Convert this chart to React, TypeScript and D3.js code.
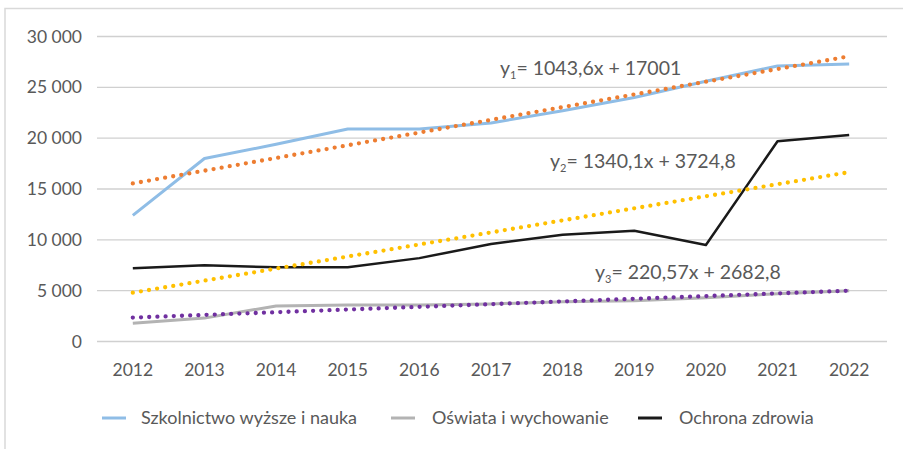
import React from "react";
import * as d3 from "d3";

const years = ["2012","2013","2014","2015","2016","2017","2018","2019","2020","2021","2022"];
const szkolnictwo = [12400,18000,19400,20900,20900,21500,22700,24000,25600,27100,27300];
const oswiata = [1800,2300,3500,3600,3600,3700,3900,4000,4300,4700,5000];
const ochrona = [7200,7500,7300,7300,8200,9600,10500,10900,9500,19700,20300];
const yTicks = [0,5000,10000,15000,20000,25000,30000];
const legendNames = ["Szkolnictwo wyższe i nauka","Oświata i wychowanie","Ochrona zdrowia"];
const equations = [
  { sub: "1", rest: "= 1043,6x + 17001" },
  { sub: "2", rest: "= 1340,1x + 3724,8" },
  { sub: "3", rest: "= 220,57x + 2682,8" },
];

const W = 903, H = 449;
const FONT = "Lato, 'Open Sans', sans-serif";
const TXT = "#595959";

function regress(vals: number[]) {
  const n = vals.length;
  const xs = vals.map((_, i) => i + 1);
  const mx = d3.mean(xs)!;
  const my = d3.mean(vals)!;
  let sxy = 0, sxx = 0;
  xs.forEach((x, i) => { sxy += (x - mx) * (vals[i] - my); sxx += (x - mx) ** 2; });
  const a = sxy / sxx, b = my - a * mx;
  return [a * 1 + b, a * n + b];
}

export default function App() {
  const x = d3.scalePoint<string>().domain(years).range([97, 885]).padding(0.5);
  const y = d3.scaleLinear().domain([0, 30000]).range([341.5, 36.5]);
  const line = d3.line<number>().x((_, i) => x(years[i])!).y(d => y(d));
  const fmt = (v: number) => d3.format(",")(v).replace(/,/g, " ");

  const series = [
    { data: szkolnictwo, color: "#8fbde6", w: 3 },
    { data: oswiata, color: "#b3b3b3", w: 3 },
    { data: ochrona, color: "#1a1a1a", w: 2.5 },
  ];
  const trends = [
    { data: szkolnictwo, color: "#ED7D31" },
    { data: ochrona, color: "#FFC000" },
    { data: oswiata, color: "#7030A0" },
  ];
  const eqPos = [[500, 75], [550, 168], [595, 279]];
  const legendPos = [[102, 141], [391, 432], [638, 679]];

  return (
    <svg width={W} height={H} style={{ position: "absolute", left: 0, top: 0, background: "#fff" }} fontFamily={FONT}>
      <rect x={5} y={8.5} width={W + 10} height={H + 10} fill="none" stroke="#d9d9d9" strokeWidth={1.5} />
      {yTicks.map(t => (
        <g key={t}>
          <line x1={97} x2={887} y1={y(t)} y2={y(t)} stroke="#d0d0d0" strokeWidth={1.3} />
          <text x={82} y={y(t) + 6} textAnchor="end" fontSize={17.5} fill={TXT}>{fmt(t)}</text>
        </g>
      ))}
      {years.map(yr => (
        <text key={yr} x={x(yr)} y={376} textAnchor="middle" fontSize={17.5} fill={TXT}>{yr}</text>
      ))}
      {series.map((s, i) => (
        <path key={i} d={line(s.data)!} fill="none" stroke={s.color} strokeWidth={s.w} strokeLinejoin="round" />
      ))}
      {trends.map((t, i) => {
        const [v0, v1] = regress(t.data);
        return (
          <line key={i} x1={x(years[0])} x2={x(years[years.length - 1])} y1={y(v0)} y2={y(v1)}
            stroke={t.color} strokeWidth={4.3} strokeDasharray="0 8.2" strokeLinecap="round" />
        );
      })}
      {equations.map((e, i) => (
        <text key={i} x={eqPos[i][0]} y={eqPos[i][1]} fontSize={19.5} fill={TXT}>
          y<tspan fontSize={11} dy={4}>{e.sub}</tspan><tspan dy={-4}>{e.rest}</tspan>
        </text>
      ))}
      {legendNames.map((n, i) => (
        <g key={n}>
          <line x1={legendPos[i][0]} x2={legendPos[i][0] + 24} y1={418} y2={418} stroke={series[i].color} strokeWidth={3} />
          <text x={legendPos[i][1]} y={424} fontSize={18} fill={TXT}>{n}</text>
        </g>
      ))}
    </svg>
  );
}
